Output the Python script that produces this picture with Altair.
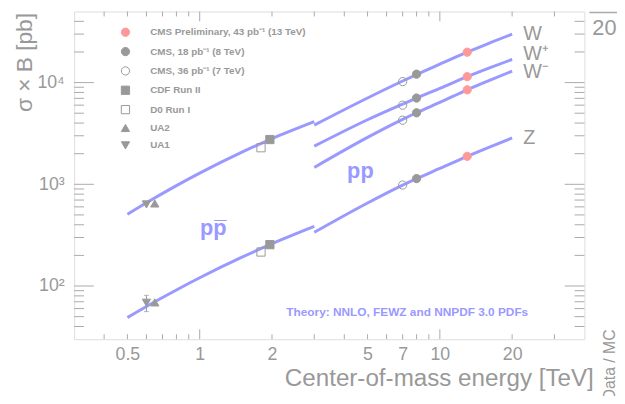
import altair as alt
import pandas as pd

# ---------------- data ----------------
# theory curves (NNLO), p-pbar segment
ppbar_E = [0.5, 0.6, 0.8, 1.0, 1.5, 1.96, 3.0]
ppbar_W = [507, 658, 971, 1289, 2072, 2755, 4130]
ppbar_Z = [49, 63, 91.5, 120.5, 192, 255, 385]
# theory curves, pp segment
pp_E = [3, 5, 7, 8, 10, 13, 16, 20]
pp_W = [3820, 7056, 10360, 12000, 15170, 19900, 24340, 29900]
pp_Wp = [2370, 4310, 6143, 7050, 8780, 11430, 13870, 16900]
pp_Wm = [1466, 2893, 4349, 5050, 6383, 8490, 10449, 12970]
pp_Z = [337, 655, 982, 1138, 1432, 1884, 2310, 2857]

experiments = [
    "CMS Preliminary, 43 pb\u207b\u00b9 (13 TeV)",
    "CMS, 18 pb\u207b\u00b9 (8 TeV)",
    "CMS, 36 pb\u207b\u00b9 (7 TeV)",
    "CDF Run II",
    "D0 Run I",
    "UA2",
    "UA1",
]
exp_shapes = ["circle", "circle", "circle", "square", "square", "triangle-up", "triangle-down"]
exp_fill = ["#ff9999", "#999999", "transparent", "#999999", "transparent", "#999999", "#999999"]
exp_stroke = ["#ff9999", "#999999", "#999999", "#999999", "#999999", "#999999", "#999999"]

# measurements: experiment index, energy [TeV], sigma x B [pb]
meas_exp = [0, 0, 0, 0, 1, 1, 1, 1, 2, 2, 2, 2, 3, 3, 4, 4, 5, 5, 6, 6]
meas_E = [13, 13, 13, 13, 8, 8, 8, 8, 7, 7, 7, 7, 1.96, 1.96, 1.8, 1.8, 0.65, 0.65, 0.6, 0.6]
meas_xs = [19900, 11430, 8490, 1884,
           12100, 7050, 5050, 1138,
           10230, 6000, 4270, 983,
           2755, 255,
           2290, 216,
           648, 69,
           634, 68.5]

# UA1 Z error bar
err_E = [0.6]
err_lo = [56]
err_hi = [81]

x_major = [1, 10]
x_minor = [0.4, 0.5, 0.6, 0.7, 0.8, 0.9, 2, 3, 4, 5, 6, 7, 8, 9, 20, 30]
y_major = [100, 1000, 10000]
y_minor = [40, 50, 60, 70, 80, 90, 200, 300, 400, 500, 600, 700, 800, 900,
           2000, 3000, 4000, 5000, 6000, 7000, 8000, 9000, 20000, 30000, 40000]
x_labels = [0.5, 1, 2, 5, 7, 10, 20]

# ---------------- tables ----------------
rows = []
for name, E, ys in [("ppbarW", ppbar_E, ppbar_W), ("ppbarZ", ppbar_E, ppbar_Z),
                    ("ppW", pp_E, pp_W), ("ppWp", pp_E, pp_Wp),
                    ("ppWm", pp_E, pp_Wm), ("ppZ", pp_E, pp_Z)]:
    for e, v in zip(E, ys):
        rows.append({"seg": name, "E": e, "xs": v})
theory = pd.DataFrame(rows)
meas = pd.DataFrame({"exp": [experiments[i] for i in meas_exp], "E": meas_E, "xs": meas_xs})
err = pd.DataFrame({"E": err_E, "lo": err_lo, "hi": err_hi})
err_caps = pd.DataFrame({"E": err_E * 2, "xs": err_lo + err_hi})

W, H = 517, 332
GRAY = "#999999"
FRAME = "#aaaaaa"
BLUE = "#9999ff"
FONT = "Liberation Sans"

xscale = alt.Scale(type="log", domain=[0.3, 40], nice=False)
yscale = alt.Scale(type="log", domain=[30, 50000], nice=False)

xaxis = alt.Axis(values=x_labels, format="~g", ticks=False, tickSize=0, domain=False, grid=False,
                 labelFontSize=18, labelColor=GRAY, labelFont=FONT, labelPadding=7,
                 title="Center-of-mass energy [TeV]", titleFontSize=24.5, titleColor=GRAY,
                 titleFont=FONT, titleFontWeight="normal", titleX=526, titleY=47,
                 titleAlign="right", titleBaseline="alphabetic")
yaxis = alt.Axis(values=y_major, ticks=False, tickSize=0, domain=False, grid=False,
                 labelExpr="datum.value == 100 ? '10\u00b2' : datum.value == 1000 ? '10\u00b3' : '10\u2074'",
                 labelFontSize=18, labelColor=GRAY, labelFont=FONT, labelPadding=10,
                 title="\u03c3 \u00d7 B [pb]", titleFontSize=23, titleColor=GRAY, titleFont=FONT,
                 titleFontWeight="normal", titleX=-50, titleY=1, titleAlign="right",
                 titleBaseline="middle", titleAngle=-90)

X = alt.X("E:Q", scale=xscale, axis=xaxis)
Y = alt.Y("xs:Q", scale=yscale, axis=yaxis)

lines = alt.Chart(theory).mark_line(color=BLUE, strokeWidth=3, interpolate="monotone").encode(
    x=X, y=Y, detail="seg:N")

errbar = alt.Chart(err).mark_rule(color=GRAY, strokeWidth=1).encode(
    x=X, y=alt.Y("lo:Q", scale=yscale, axis=yaxis), y2="hi:Q")
caps = alt.Chart(err_caps).mark_tick(color=GRAY, orient="horizontal", size=5, thickness=1).encode(x=X, y=Y)

leg = alt.Legend(title=None, orient="none", legendX=47, legendY=16, symbolSize=70,
                 labelFontSize=10, labelColor=GRAY, labelFont=FONT, labelFontWeight="bold",
                 rowPadding=5.6, labelOffset=20, padding=0, symbolStrokeWidth=1)
points = alt.Chart(meas).mark_point(size=70, strokeWidth=1, opacity=1).encode(
    x=X, y=Y,
    shape=alt.Shape("exp:N", scale=alt.Scale(domain=experiments, range=exp_shapes), legend=leg, sort=experiments),
    fill=alt.Fill("exp:N", scale=alt.Scale(domain=experiments, range=exp_fill), legend=leg, sort=experiments),
    stroke=alt.Stroke("exp:N", scale=alt.Scale(domain=experiments, range=exp_stroke), legend=leg, sort=experiments),
)

# frame ticks (inward, all four sides)
def yticks(vals, length):
    df = pd.DataFrame({"xs": vals})
    left = alt.Chart(df).mark_rule(color=FRAME, strokeWidth=1).encode(
        y=Y, x=alt.value(0), x2=alt.value(length))
    right = alt.Chart(df).mark_rule(color=FRAME, strokeWidth=1).encode(
        y=Y, x=alt.value(W - length), x2=alt.value(W))
    return [left, right]

def xticks(vals, length):
    df = pd.DataFrame({"E": vals})
    bottom = alt.Chart(df).mark_rule(color=FRAME, strokeWidth=1).encode(
        x=X, y=alt.value(H), y2=alt.value(H - length))
    top = alt.Chart(df).mark_rule(color=FRAME, strokeWidth=1).encode(
        x=X, y=alt.value(0), y2=alt.value(length))
    return [bottom, top]

tick_layers = yticks(y_major, 20) + yticks(y_minor, 10) + xticks(x_major, 10) + xticks(x_minor, 5)

def label(text, x, y, size=20, color=GRAY, weight="normal", align="left", angle=0, font=FONT):
    return alt.Chart(pd.DataFrame({"t": [text]})).mark_text(
        align=align, baseline="alphabetic", fontSize=size, color=color, fontWeight=weight,
        font=font, angle=angle).encode(text="t:N", x=alt.value(x), y=alt.value(y))

texts = [
    label("W", 455, 29),
    label("W\u207a", 455, 49),
    label("W\u207b", 455, 67),
    label("Z", 455, 134),
    label("pp", 290, 169, size=22, color=BLUE, weight="bold", align="center"),
    label("pp\u0305", 141, 226, size=22, color=BLUE, weight="bold", align="center"),
    label("Theory: NNLO, FEWZ and NNPDF 3.0 PDFs", 215, 309, size=12, color=BLUE, weight="bold"),
    label("20", 525, 24, size=22),
    label("Data / MC", 548, 394, size=16, angle=270),
]
edge = alt.Chart(pd.DataFrame({"a": [0]})).mark_rule(color=FRAME, strokeWidth=1.5).encode(
    x=alt.value(522), x2=alt.value(560), y=alt.value(1))

chart = alt.layer(lines, errbar, caps, *tick_layers, points, *texts, edge).properties(
    width=W, height=H,
    autosize=alt.AutoSizeParams(type="none"),
    padding={"left": 67, "top": 1, "right": 33, "bottom": 55},
).configure_view(stroke=FRAME, strokeWidth=1.5).configure(background="white")

chart.save("out.html", embed_options={"renderer": "svg", "actions": False})
